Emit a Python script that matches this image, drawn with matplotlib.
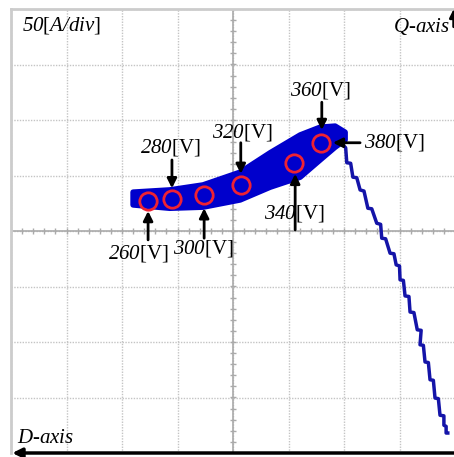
import matplotlib
matplotlib.use("Agg")
import numpy as np
import matplotlib.pyplot as plt

plt.rcParams['font.family'] = ['Liberation Serif', 'DejaVu Serif']
plt.rcParams['mathtext.fontset'] = 'custom'
plt.rcParams['mathtext.rm'] = 'Liberation Serif'
# sf slot is used for the italic parts so that digits are italic too
plt.rcParams['mathtext.sf'] = 'Liberation Serif:italic'

# current locus, in divisions (50 A/div), D-axis horizontal, Q-axis vertical
band_x = [-1.80, -1.14, -0.54, 0.13, 0.67, 1.21, 1.57, 1.84, 2.02]
band_top = [0.70, 0.74, 0.83, 1.06, 1.41, 1.73, 1.87, 1.89, 1.78]
band_bot = [0.47, 0.41, 0.43, 0.56, 0.79, 0.97, 1.28, 1.51, 1.64]

trace_d = [1.98, 2.03, 2.05, 2.12, 2.16, 2.23, 2.29, 2.36, 2.43, 2.50,
           2.59, 2.66, 2.68, 2.75, 2.83, 2.90, 2.94, 3.00, 3.01, 3.07,
           3.10, 3.17, 3.19, 3.26, 3.32, 3.39, 3.37, 3.43, 3.46, 3.52,
           3.55, 3.61, 3.64, 3.70, 3.73, 3.80, 3.80, 3.84, 3.84, 3.87]
trace_q = [1.55, 1.50, 1.23, 1.22, 0.97, 0.96, 0.74, 0.72, 0.41, 0.40,
           0.14, 0.12, -0.13, -0.14, -0.40, -0.41, -0.61, -0.63, -0.88, -0.89,
           -1.17, -1.18, -1.46, -1.47, -1.78, -1.79, -2.05, -2.06, -2.36, -2.37,
           -2.68, -2.69, -3.01, -3.02, -3.32, -3.33, -3.50, -3.52, -3.64, -3.64]

volts = ['260', '280', '300', '320', '340', '360']
op_d = [-1.53, -1.10, -0.52, 0.14, 1.10, 1.59]
op_q = [0.54, 0.58, 0.65, 0.83, 1.22, 1.59]

fig = plt.figure(figsize=(4.54, 4.57), dpi=100)
ax = fig.add_axes([11/454, 4/457, 444/454, 444/457])
ax.set_xlim(-4, 4)
ax.set_ylim(-4, 4)
ax.set_xticks(range(-4, 5))
ax.set_yticks(range(-4, 5))
ax.tick_params(length=0, labelbottom=False, labelleft=False)
ax.grid(True, color='#c4c4c4', linestyle=(0, (1, 1)), linewidth=1)
for s in ['right', 'bottom']:
    ax.spines[s].set_visible(False)
for s in ['left', 'top']:
    ax.spines[s].set_color('#cccccc')
    ax.spines[s].set_linewidth(2)

# centre axes with minor ticks
ax.axhline(0, color='#aaaaaa', lw=1.2)
ax.axvline(0, color='#aaaaaa', lw=1.2)
minor = np.arange(-4, 4.01, 0.2)
ax.plot(minor, np.zeros_like(minor), '|', color='#aaaaaa', ms=5, mew=1)
ax.plot(np.zeros_like(minor), minor, '_', color='#aaaaaa', ms=5, mew=1)

# locus
poly_x = band_x + band_x[::-1]
poly_y = band_top + band_bot[::-1]
ax.fill(poly_x, poly_y, color='#0000cc', ec='#0000cc', lw=4, joinstyle='round', zorder=3)
ax.plot(trace_d, trace_q, color='#1414a8', lw=2.5, zorder=3)

ax.plot(op_d, op_q, 'o', ms=12.5, mfc='none', mec='#ee2233', mew=2, zorder=4)

# labels and arrows
lab_pos = [(-1.71, -0.40), (-1.12, 1.51), (-0.54, -0.31), (0.16, 1.78),
           (1.10, 0.32), (1.57, 2.54)]
arr = [(-1.53, -0.16, 0.36), (-1.10, 1.28, 0.77), (-0.52, -0.13, 0.41),
       (0.14, 1.59, 1.03), (1.12, 0.02, 1.03), (1.60, 2.32, 1.82)]
ap = dict(arrowstyle='-|>', color='black', lw=2, mutation_scale=14, shrinkA=0, shrinkB=0)
for v, (tx, ty), (axx, y0, y1) in zip(volts, lab_pos, arr):
    ax.text(tx, ty, r'$\mathsf{%s}$[V]' % v, fontsize=15, ha='center', va='center', zorder=5)
    ax.annotate('', xy=(axx, y1), xytext=(axx, y0), arrowprops=ap, zorder=5)

ax.text(2.90, 1.59, r'$\mathsf{380}$[V]', fontsize=15, ha='center', va='center', zorder=5)
ax.annotate('', xy=(1.80, 1.59), xytext=(2.29, 1.59), arrowprops=ap, zorder=5)

ax.text(-3.80, 3.71, r'$\mathsf{50}$[$\mathsf{A/div}$]', fontsize=15, ha='left', va='center')
ax.text(3.91, 3.68, r'$\mathsf{Q}$-$\mathsf{axis}$', fontsize=15, ha='right', va='center')
ax.text(-3.89, -3.73, r'$\mathsf{D}$-$\mathsf{axis}$', fontsize=15, ha='left', va='center')

ax.annotate('', xy=(0.003, 0.0), xytext=(1.0, 0.0), xycoords='axes fraction',
            arrowprops=dict(arrowstyle='-|>', color='black', lw=2.5, mutation_scale=14,
                            shrinkA=0, shrinkB=0), annotation_clip=False)
ax.annotate('', xy=(0.997, 1.0), xytext=(0.997, 0.96), xycoords='axes fraction',
            arrowprops=dict(arrowstyle='-|>', color='black', lw=2, mutation_scale=12,
                            shrinkA=0, shrinkB=0), annotation_clip=False)

fig.savefig('out.png', dpi=100)
